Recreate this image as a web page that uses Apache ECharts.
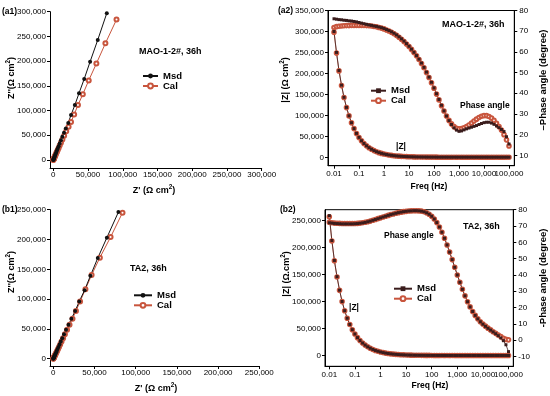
<!DOCTYPE html>
<html><head><meta charset="utf-8">
<script src="https://cdn.jsdelivr.net/npm/echarts@6/dist/echarts.min.js"></script>
<style>html,body{margin:0;padding:0;background:#fff}#c{width:550px;height:396px}</style>
</head><body><div id="c"></div>
<script>
// ---------- DATA ----------
// (a1) Nyquist MAO-1-2#, 36h
const a1MsdX = [0,150,300,500,750,1000,1400,1800,2300,2900,3600,4400,5300,6400,7700,9200,11000,13000,15400,18000,21500,25500,31000,37000,44500,53000,64000,77000];
const a1MsdY = [0,500,1100,1800,2700,3700,5100,6600,8400,10500,13000,16000,19500,23500,28000,33500,40000,47000,55000,63500,75000,91000,111000,135000,164000,199000,243000,297000];
const a1CalX = [0,200,400,650,950,1300,1750,2250,2850,3550,4350,5300,6400,7700,9200,11000,13100,15600,18600,22000,25500,30000,35500,42500,51000,62000,75000,91000];
const a1CalY = [0,600,1300,2100,3100,4200,5600,7200,9100,11300,13900,16900,20400,24500,29300,35000,41500,49000,58000,67500,77000,92000,111000,133000,161000,195000,236000,284000];
// (b1) Nyquist TA2, 36h
const b1MsdX = [0,100,250,450,700,1000,1350,1750,2250,2850,3500,4300,5200,6300,7600,9100,10900,13000,15500,18500,22000,26500,31500,38000,45000,54000,65000,79000];
const b1MsdY = [0,300,800,1400,2200,3100,4200,5400,7000,8800,10900,13400,16300,19800,24000,28800,34500,41000,48500,57000,67000,80000,96000,115000,139000,169000,203000,246000];
const b1CalX = [0,120,280,500,780,1100,1500,1950,2500,3150,3900,4750,5750,6950,8350,10000,11900,14100,16700,19700,23300,27500,32500,39000,46500,56500,69500,84000];
const b1CalY = [0,300,800,1400,2200,3100,4200,5400,7000,8800,10900,13400,16300,19800,24000,28800,34500,41000,48500,57000,67000,80000,96000,116500,140500,169500,204000,245000];
// Bode frequencies (Hz)
const freq = [0.01,0.0126,0.0158,0.02,0.0251,0.0316,0.0398,0.0501,0.0631,0.0794,
0.1,0.126,0.158,0.2,0.251,0.316,0.398,0.501,0.631,0.794,
1,1.26,1.58,2,2.51,3.16,3.98,5.01,6.31,7.94,
10,12.6,15.8,20,25.1,31.6,39.8,50.1,63.1,79.4,
100,126,158,200,251,316,398,501,631,794,
1000,1260,1580,2000,2510,3160,3980,5010,6310,7940,
10000,12600,15800,20000,25100,31600,39800,50100,63100,79400,
100000];
// (a2) Bode MAO-1-2#, 36h
const a2ZMsd = [300000,250000,207000,172000,143000,119000,99000,82500,68500,57000,
47500,39500,33000,27500,23000,19200,16000,13400,11200,9400,
7900,6600,5550,4650,3900,3280,2760,2330,1970,1670,
1420,1210,1040,890,770,670,590,520,460,415,
378,348,324,305,290,279,270,263,257,252,
248,244,240,236,232,228,224,220,216,212,
208,204,200,197,194,191,189,187,185,183,
182];
const a2ZCal = [298000,248500,206000,171000,142500,118500,98700,82200,68400,56900,
47400,39400,32900,27400,22900,19100,15950,13350,11150,9350,
7860,6570,5520,4630,3890,3270,2750,2320,1960,1665,
1415,1205,1035,886,768,668,588,518,459,414,
377,347,323,304,289,278,269,262,256,251,
247,243,239,235,231,227,223,219,215,211,
207,203,199,196,193,190,188,186,184,182,
181];
const a2PMsd = [76.0,75.8,75.6,75.5,75.3,75.2,75.0,74.9,74.7,74.5,
74.2,73.9,73.6,73.3,73.0,72.8,72.5,72.3,72.0,71.7,
71.3,70.8,70.3,69.7,69.0,68.2,67.3,66.3,65.2,64.0,
62.7,61.3,59.8,58.2,56.5,54.6,52.5,50.2,47.8,45.3,
42.6,39.8,37.0,34.2,31.5,29.0,26.8,24.9,23.3,22.2,
21.6,21.8,22.3,22.8,23.2,23.6,24.0,24.4,24.9,25.4,
25.8,26.0,26.0,25.6,25.0,24.2,23.4,22.5,21.5,19.0,
15.5];
const a2PCal = [71.8,72.2,72.4,72.5,72.6,72.7,72.7,72.8,72.8,72.8,
72.8,72.8,72.8,72.7,72.6,72.5,72.3,72.1,71.8,71.5,
71.1,70.6,70.1,69.5,68.8,68.0,67.1,66.1,65.0,63.8,
62.6,61.2,59.7,58.1,56.3,54.4,52.3,50.0,47.6,45.1,
42.4,39.6,36.8,34.0,31.4,29.0,26.9,25.2,23.9,23.1,
22.8,22.9,23.3,23.9,24.7,25.6,26.6,27.5,28.3,28.9,
29.2,29.2,28.8,28.0,26.9,25.5,23.9,22.2,20.0,17.5,
14.5];
// (b2) Bode TA2, 36h
const b2ZMsd = [259000,213000,176000,146000,121000,100000,83000,69000,57500,47800,
39800,33200,27700,23100,19300,16100,13450,11200,9350,7800,
6500,5400,4480,3720,3080,2550,2110,1740,1430,1180,
970,800,655,538,441,362,297,244,201,166,
138,115,97,83,72,64,58,54,51,49,
48,47,46.5,46,45.7,45.5,45.3,45.2,45.1,45,
45,45,45,45,45,45,45,45,45,45,
45];
const b2ZCal = [257000,212000,175500,145500,120700,99800,82800,68900,57400,47700,
39700,33100,27650,23050,19250,16080,13430,11190,9340,7790,
6490,5395,4475,3716,3077,2548,2108,1738,1429,1179,
969,799,654,537,440,361,296,243,200,165,
137,114,96,82,71,63,57,53,50,48,
47,46,45.5,45,44.7,44.5,44.3,44.2,44.1,44,
44,44,44,44,44,44,44,44,44,44,
44];
const b2PMsd = [72.0,71.8,71.6,71.5,71.4,71.3,71.3,71.3,71.3,71.3,
71.4,71.5,71.7,71.9,72.2,72.6,73.0,73.5,74.0,74.5,
75.0,75.5,76.0,76.5,77.0,77.4,77.8,78.2,78.5,78.8,
79.0,79.2,79.3,79.4,79.4,79.3,79.1,78.7,78.1,77.2,
76.0,74.3,72.1,69.4,66.2,62.5,58.4,54.0,49.4,44.7,
40.0,35.5,31.2,27.2,23.6,20.4,17.6,15.2,13.1,11.3,
9.8,8.5,7.3,6.2,5.1,4.0,2.8,1.4,-0.3,-2.8,
-7.0];
const b2PCal = [72.3,72.0,71.8,71.7,71.6,71.5,71.5,71.5,71.5,71.5,
71.5,71.6,71.8,72.0,72.3,72.6,73.0,73.5,74.0,74.5,
75.0,75.5,76.0,76.5,77.0,77.4,77.8,78.2,78.5,78.8,
79.0,79.2,79.3,79.4,79.4,79.3,79.1,78.7,78.1,77.2,
76.0,74.3,72.1,69.4,66.2,62.5,58.4,54.0,49.4,44.7,
40.0,35.5,31.2,27.2,23.6,20.4,17.6,15.2,13.1,11.3,
9.9,8.6,7.4,6.3,5.2,4.2,3.2,2.2,1.2,0.5,
0.2];
// tick labels
const a1Ticks = [0,50000,100000,150000,200000,250000,300000];
const b1Ticks = [0,50000,100000,150000,200000,250000];
const a2ZTicks = [0,50000,100000,150000,200000,250000,300000,350000];
const a2PTicks = [10,20,30,40,50,60,70,80];
const b2ZTicks = [0,50000,100000,150000,200000,250000];
const b2PTicks = [-10,0,10,20,30,40,50,60,70,80];
const freqTicks = [0.01,0.1,1,10,100,1000,10000,100000];

// ---------- CHART ----------
const FF = '"Liberation Sans", Arial, sans-serif';
const MSD = '#111111', MSDB = '#3a1c1c', CAL = '#c8553d';
const fmt = v => Number(v).toLocaleString('en-US', {maximumFractionDigits: 3});
const isDecade = v => Math.abs(Math.log10(v) - Math.round(Math.log10(v))) < 1e-6;
const logFmt = v => isDecade(v) ? fmt(v) : '';

function lab(ticks, margin) {
  return {customValues: ticks, fontSize: 8, color: '#000', fontFamily: FF, margin: margin, formatter: fmt,
    hideOverlap: false};
}
function axis(type, gi, min, max, ticks, extra) {
  return Object.assign({
    type: type, gridIndex: gi, min: min, max: max,
    axisLine: {show: true, onZero: false, lineStyle: {color: '#000', width: 1}},
    axisTick: {show: true, length: 3, inside: false, customValues: ticks, lineStyle: {color: '#000', width: 1}},
    axisLabel: lab(ticks, 4),
    splitLine: {show: false}, minorTick: {show: false}, minorSplitLine: {show: false}
  }, extra || {});
}
// log axis: an empty label sits at the axis end so the decade labels are never treated as min/max labels
function logAxis(gi, min, max) {
  return axis('log', gi, min, max, freqTicks, {logBase: 10,
    axisLabel: {customValues: [min].concat(freqTicks, [max]), fontSize: 8, color: '#000', fontFamily: FF,
      margin: 4, formatter: logFmt, hideOverlap: false}});
}
const pairs = (xs, ys) => xs.map((x, i) => [x, ys[i]]);
function ser(name, xi, yi, data, kind) {
  const base = {name: name, type: 'line', xAxisIndex: xi, yAxisIndex: yi, data: data,
    smooth: false, animation: false, showSymbol: true, emphasis: {disabled: true}};
  if (kind === 'msdN') Object.assign(base, {symbol: 'circle', symbolSize: 4, itemStyle: {color: MSD}, lineStyle: {color: MSD, width: 1}});
  if (kind === 'calN') Object.assign(base, {symbol: 'emptyCircle', symbolSize: 4, itemStyle: {color: CAL, borderWidth: 1}, lineStyle: {color: CAL, width: 1}});
  if (kind === 'msdB') Object.assign(base, {symbol: 'rect', symbolSize: 3, itemStyle: {color: MSDB}, lineStyle: {color: MSDB, width: 0.8}});
  if (kind === 'calB') Object.assign(base, {symbol: 'emptyCircle', symbolSize: 3.6, itemStyle: {color: CAL, borderWidth: 0.8}, lineStyle: {color: CAL, width: 0.8}});
  return base;
}
function legend(left, top, names, iw) {
  return {left: left, top: top, orient: 'vertical', padding: 0, itemGap: 0, itemWidth: iw, itemHeight: 6,
    selectedMode: false, data: names, formatter: n => n.split('_')[0],
    textStyle: {fontSize: 9.5, fontWeight: 'bold', color: '#000', fontFamily: FF, lineHeight: 10}};
}
function txt(x, y, text, size, o) {
  o = o || {};
  return {type: 'text', x: x, y: y, rotation: o.rot || 0, z: 100, silent: true,
    style: {text: text, fill: '#000', fontFamily: FF, fontSize: size, fontWeight: 'bold',
      align: o.align || 'left', verticalAlign: 'middle', rich: o.rich}};
}
function sup(size) {
  return {n: {fontSize: size, fontWeight: 'bold', fontFamily: FF, fill: '#000', lineHeight: 14},
          s: {fontSize: size * 0.7, fontWeight: 'bold', fontFamily: FF, fill: '#000', lineHeight: 7, verticalAlign: 'top'}};
}

const option = {
  animation: false,
  backgroundColor: '#fff',
  grid: [
    {left: 50, top: 11.7, width: 211.7, height: 156.3, containLabel: false, outerBoundsMode: 'none'},
    {left: 328, top: 10.5, width: 186.3, height: 155.2, containLabel: false, outerBoundsMode: 'none', show: true, borderColor: '#000', borderWidth: 1, backgroundColor: 'transparent'},
    {left: 50, top: 209.7, width: 209.3, height: 156.3, containLabel: false, outerBoundsMode: 'none'},
    {left: 325, top: 209.7, width: 188.3, height: 156.6, containLabel: false, outerBoundsMode: 'none', show: true, borderColor: '#000', borderWidth: 1, backgroundColor: 'transparent'}
  ],
  xAxis: [
    axis('value', 0, -4750, 300000, a1Ticks, {axisLabel: lab(a1Ticks, 3)}),
    logAxis(1, 0.00575, 163000),
    axis('value', 2, -4000, 250000, b1Ticks, {axisLabel: lab(b1Ticks, 3)}),
    logAxis(3, 0.00679, 154000)
  ],
  yAxis: [
    axis('value', 0, -16200, 300000, a1Ticks),
    axis('value', 1, -20000, 350000, a2ZTicks),
    axis('value', 1, 5, 80, a2PTicks, {position: 'right', axisLabel: lab(a2PTicks, 5)}),
    axis('value', 2, -12250, 250000, b1Ticks),
    axis('value', 3, -20000, 270000, b2ZTicks),
    axis('value', 3, -16, 80, b2PTicks, {position: 'right', axisLabel: lab(b2PTicks, 5)})
  ],
  legend: [
    legend(142, 71, ['Msd_a1', 'Cal_a1'], 15),
    legend(370, 85.7, ['Msd_a2', 'Cal_a2'], 15),
    legend(133, 290.3, ['Msd_b1', 'Cal_b1'], 18),
    legend(393, 283.7, ['Msd_b2', 'Cal_b2'], 18)
  ],
  series: [
    ser('Cal_a1', 0, 0, pairs(a1CalX, a1CalY), 'calN'),
    ser('Msd_a1', 0, 0, pairs(a1MsdX, a1MsdY), 'msdN'),
    ser('Cal_a2', 1, 1, pairs(freq, a2ZCal), 'calB'),
    ser('Cal_a2', 1, 2, pairs(freq, a2PCal), 'calB'),
    ser('Msd_a2', 1, 1, pairs(freq, a2ZMsd), 'msdB'),
    ser('Msd_a2', 1, 2, pairs(freq, a2PMsd), 'msdB'),
    ser('Cal_b1', 2, 3, pairs(b1CalX, b1CalY), 'calN'),
    ser('Msd_b1', 2, 3, pairs(b1MsdX, b1MsdY), 'msdN'),
    ser('Cal_b2', 3, 4, pairs(freq, b2ZCal), 'calB'),
    ser('Cal_b2', 3, 5, pairs(freq, b2PCal), 'calB'),
    ser('Msd_b2', 3, 4, pairs(freq, b2ZMsd), 'msdB'),
    ser('Msd_b2', 3, 5, pairs(freq, b2PMsd), 'msdB')
  ],
  graphic: [
    txt(2, 12, '(a1)', 8.5), txt(278, 11, '(a2)', 8.5),
    txt(2, 209.7, '(b1)', 8.5), txt(280, 209.7, '(b2)', 8.5),
    txt(139, 51.7, 'MAO-1-2#, 36h', 9), txt(442, 25, 'MAO-1-2#, 36h', 9),
    txt(130, 268.7, 'TA2, 36h', 9), txt(463, 226.3, 'TA2, 36h', 9),
    txt(460, 106, 'Phase angle', 8.5), txt(384, 235.3, 'Phase angle', 8.5),
    txt(396, 147, '|Z|', 8.5), txt(349, 307.3, '|Z|', 8.5),
    txt(154, 191, '{n|Z\' (Ω cm}{s|2}{n|)}', 9, {align: 'center', rich: sup(9)}),
    txt(156, 389, '{n|Z\' (Ω cm}{s|2}{n|)}', 9, {align: 'center', rich: sup(9)}),
    txt(12, 78, '{n|Z\'\'(Ω cm}{s|2}{n|)}', 9, {align: 'center', rot: Math.PI / 2, rich: sup(9)}),
    txt(12, 272, '{n|Z\'\'(Ω cm}{s|2}{n|)}', 9, {align: 'center', rot: Math.PI / 2, rich: sup(9)}),
    txt(286, 80, '{n||Z| (Ω cm}{s|2}{n|)}', 9, {align: 'center', rot: Math.PI / 2, rich: sup(9)}),
    txt(287, 274, '{n||Z| (Ω.cm}{s|2}{n|)}', 9, {align: 'center', rot: Math.PI / 2, rich: sup(9)}),
    txt(543, 80, '–Phase angle (degree)', 9.5, {align: 'center', rot: Math.PI / 2}),
    txt(543, 278, '-Phase angle (degree)', 9.5, {align: 'center', rot: Math.PI / 2}),
    txt(429, 187, 'Freq (Hz)', 8.5, {align: 'center'}),
    txt(430, 386, 'Freq (Hz)', 8.5, {align: 'center'})
  ]
};
const chart = echarts.init(document.getElementById('c'), null, {renderer: 'canvas', width: 550, height: 396});
chart.setOption(option);
</script></body></html>
